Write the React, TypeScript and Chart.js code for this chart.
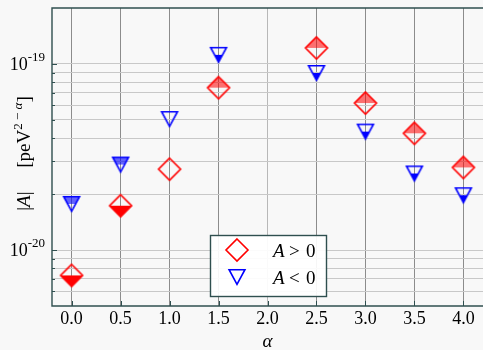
import React, { useEffect, useRef } from "react";
import { Chart, registerables } from "chart.js";

Chart.register(...registerables);

// ---- data ----
const alphas = [0.0, 0.5, 1.0, 1.5, 2.5, 3.0, 3.5, 4.0];
const posValues = [7.3e-21, 1.73e-20, 2.72e-20, 7.46e-20, 1.22e-19, 6.17e-20, 4.24e-20, 2.78e-20];
const negValues = [1.77e-20, 2.88e-20, 5.06e-20, 1.12e-19, 8.95e-20, 4.33e-20, 2.58e-20, 1.97e-20];
const posFill = ["bottom", "bottom", "none", "top", "top", "top", "top", "top"];
const negFill = ["top", "top", "none", "bottom", "bottom", "bottom", "bottom", "bottom"];
const xTickValues = [0, 0.5, 1, 1.5, 2, 2.5, 3, 3.5, 4];
const yTickValues = [
  6e-21, 7e-21, 8e-21, 9e-21,
  1e-20, 2e-20, 3e-20, 4e-20, 5e-20, 6e-20, 7e-20, 8e-20, 9e-20,
  1e-19,
];
const yLabelled = [1e-20, 1e-19];
const legendLabels = [">", "<"];

const FRAME = "#2f4f4f";
const RED = "#ff0000";
const BLUE = "#0000ff";
const RED_LIGHT = "rgba(255,0,0,0.55)";
const BLUE_LIGHT = "rgba(0,0,255,0.6)";
const SERIF = '"Liberation Serif", "DejaVu Serif", serif';

function makeMarker(shape: string, color: string, light: string, fill: string) {
  const S = 30;
  const c = document.createElement("canvas");
  c.width = S;
  c.height = S;
  const ctx = c.getContext("2d")!;
  const m = S / 2;
  const path = () => {
    ctx.beginPath();
    if (shape === "diamond") {
      const r = 11;
      ctx.moveTo(m, m - r);
      ctx.lineTo(m + r, m);
      ctx.lineTo(m, m + r);
      ctx.lineTo(m - r, m);
    } else {
      const w = 7.9;
      const h = 7.3;
      ctx.moveTo(m - w, m - h);
      ctx.lineTo(m + w, m - h);
      ctx.lineTo(m, m + h);
    }
    ctx.closePath();
  };
  if (fill !== "none") {
    ctx.save();
    ctx.beginPath();
    ctx.rect(0, fill === "top" ? 0 : m, S, m);
    ctx.clip();
    path();
    ctx.fillStyle = fill === "top" ? light : color;
    ctx.fill();
    ctx.restore();
  }
  path();
  ctx.lineWidth = 1.6;
  ctx.lineJoin = "miter";
  ctx.strokeStyle = color;
  ctx.stroke();
  return c;
}

const decor = {
  id: "decor",
  beforeDraw(chart: any) {
    const ctx = chart.ctx;
    ctx.save();
    ctx.fillStyle = "#f8f8f8";
    ctx.fillRect(0, 0, chart.width, chart.height);
    ctx.restore();
  },
  afterDraw(chart: any) {
    const ctx = chart.ctx;
    const a = chart.chartArea;
    const xs = chart.scales.x;
    const ys = chart.scales.y;
    ctx.save();

    // frame
    ctx.strokeStyle = FRAME;
    ctx.lineWidth = 1.4;
    ctx.beginPath();
    ctx.moveTo(a.right, a.top);
    ctx.lineTo(a.left, a.top);
    ctx.lineTo(a.left, a.bottom);
    ctx.lineTo(a.right, a.bottom);
    ctx.stroke();

    // tick marks (inward)
    ctx.lineWidth = 1;
    ctx.beginPath();
    xTickValues.forEach((v) => {
      const x = Math.round(xs.getPixelForValue(v)) + 0.5;
      ctx.moveTo(x, a.bottom);
      ctx.lineTo(x, a.bottom - 5);
    });
    yTickValues.forEach((v) => {
      const y = Math.round(ys.getPixelForValue(v)) + 0.5;
      const major = yLabelled.indexOf(v) >= 0;
      ctx.moveTo(a.left, y);
      ctx.lineTo(a.left + (major ? 5 : 3), y);
    });
    ctx.stroke();

    // y tick labels 10^n
    ctx.fillStyle = "#000";
    ctx.textBaseline = "alphabetic";
    ctx.textAlign = "left";
    yLabelled.forEach((v) => {
      const y = ys.getPixelForValue(v);
      const e = Math.round(Math.log10(v));
      const sup = "-" + Math.abs(e);
      ctx.font = `18px ${SERIF}`;
      const wb = ctx.measureText("10").width;
      ctx.font = `13px ${SERIF}`;
      const ws = ctx.measureText(sup).width;
      const right = a.left - 7;
      const x0 = right - ws - wb;
      ctx.font = `18px ${SERIF}`;
      ctx.fillText("10", x0, y + 6);
      ctx.font = `13px ${SERIF}`;
      ctx.fillText(sup, x0 + wb, y - 3);
    });

    // y title
    const segs = [
      { t: "|", f: `19px ${SERIF}`, dy: 0 },
      { t: "A", f: `italic 19px ${SERIF}`, dy: 0 },
      { t: "|", f: `19px ${SERIF}`, dy: 0 },
      { t: "     ", f: `19px ${SERIF}`, dy: 0 },
      { t: "[peV", f: `19px ${SERIF}`, dy: 0 },
      { t: "2 \u2212 ", f: `13px ${SERIF}`, dy: -8 },
      { t: "\u03b1", f: `italic 13px ${SERIF}`, dy: -8 },
      { t: "]", f: `19px ${SERIF}`, dy: 0 },
    ];
    let total = 0;
    const widths = segs.map((s) => {
      ctx.font = s.f;
      const w = ctx.measureText(s.t).width;
      total += w;
      return w;
    });
    ctx.save();
    ctx.translate(30, 153.5);
    ctx.rotate(-Math.PI / 2);
    let cx = -total / 2;
    segs.forEach((s, i) => {
      ctx.font = s.f;
      ctx.fillText(s.t, cx, s.dy);
      cx += widths[i];
    });
    ctx.restore();

    // x title
    ctx.font = `italic 19px ${SERIF}`;
    ctx.textAlign = "center";
    ctx.fillText("\u03b1", (a.left + a.right) / 2, 347);

    // legend
    const lx = 210.5, ly = 235.5, lw = 116, lh = 61;
    ctx.fillStyle = "rgba(255,255,255,0.92)";
    ctx.fillRect(lx, ly, lw, lh);
    ctx.strokeStyle = FRAME;
    ctx.lineWidth = 1.4;
    ctx.strokeRect(lx, ly, lw, lh);
    const markers = [
      makeMarker("diamond", RED, RED_LIGHT, "none"),
      makeMarker("tri", BLUE, BLUE_LIGHT, "none"),
    ];
    const rowsY = [250, 277];
    rowsY.forEach((ry, i) => {
      const mk = markers[i];
      ctx.drawImage(mk, 237 - mk.width / 2, ry - mk.height / 2);
      ctx.fillStyle = "#000";
      ctx.textAlign = "left";
      ctx.font = `italic 19px ${SERIF}`;
      ctx.fillText("A", 273, ry + 7);
      ctx.font = `19px ${SERIF}`;
      ctx.fillText(legendLabels[i], 289, ry + 7);
      ctx.fillText("0", 306, ry + 7);
    });

    ctx.restore();
  },
};

export default function App() {
  const ref = useRef<HTMLCanvasElement>(null);
  useEffect(() => {
    const canvas = ref.current!;
    const chart = new Chart(canvas, {
      type: "scatter",
      data: {
        datasets: [
          {
            label: "A > 0",
            data: alphas.map((x, i) => ({ x, y: posValues[i] })),
            pointStyle: posFill.map((f) => makeMarker("diamond", RED, RED_LIGHT, f)) as any,
            pointRadius: 10,
            showLine: false,
          },
          {
            label: "A < 0",
            data: alphas.map((x, i) => ({ x, y: negValues[i] })),
            pointStyle: negFill.map((f) => makeMarker("tri", BLUE, BLUE_LIGHT, f)) as any,
            pointRadius: 10,
            showLine: false,
          },
        ],
      },
      options: {
        responsive: false,
        animation: false,
        events: [],
        layout: { autoPadding: false, padding: { top: 8, left: 0, right: 0, bottom: 0 } },
        plugins: { legend: { display: false }, tooltip: { enabled: false } },
        scales: {
          x: {
            type: "linear",
            min: -0.2,
            max: 4.2,
            afterBuildTicks: (s: any) => {
              s.ticks = xTickValues.map((v) => ({ value: v }));
            },
            afterFit: (s: any) => {
              s.height = 44;
              s.paddingLeft = 0;
              s.paddingRight = 0;
            },
            ticks: {
              callback: (v: any) => Number(v).toFixed(1),
              font: { family: "Liberation Serif", size: 18 },
              color: "#000",
              padding: 2,
              maxRotation: 0,
              autoSkip: false,
            },
            border: { display: false },
            grid: {
              drawTicks: false,
              lineWidth: 1,
              color: (c: any) =>
                c.tick && Math.abs(c.tick.value - 2) < 1e-9 ? "#b8b8b8" : "#8c8c8c",
            },
          },
          y: {
            type: "logarithmic",
            min: 5e-21,
            max: 2e-19,
            afterBuildTicks: (s: any) => {
              s.ticks = yTickValues.map((v) => ({ value: v }));
            },
            afterFit: (s: any) => {
              s.width = 52;
              s.paddingTop = 0;
              s.paddingBottom = 0;
            },
            ticks: { display: false },
            border: { display: false },
            grid: { drawTicks: false, lineWidth: 1, color: "#c8c8c8" },
          },
        },
      },
      plugins: [decor],
    });
    return () => chart.destroy();
  }, []);
  return (
    <div style={{ position: "fixed", left: 0, top: 0, width: 483, height: 350 }}>
      <canvas ref={ref} width={483} height={350} style={{ display: "block" }} />
    </div>
  );
}
